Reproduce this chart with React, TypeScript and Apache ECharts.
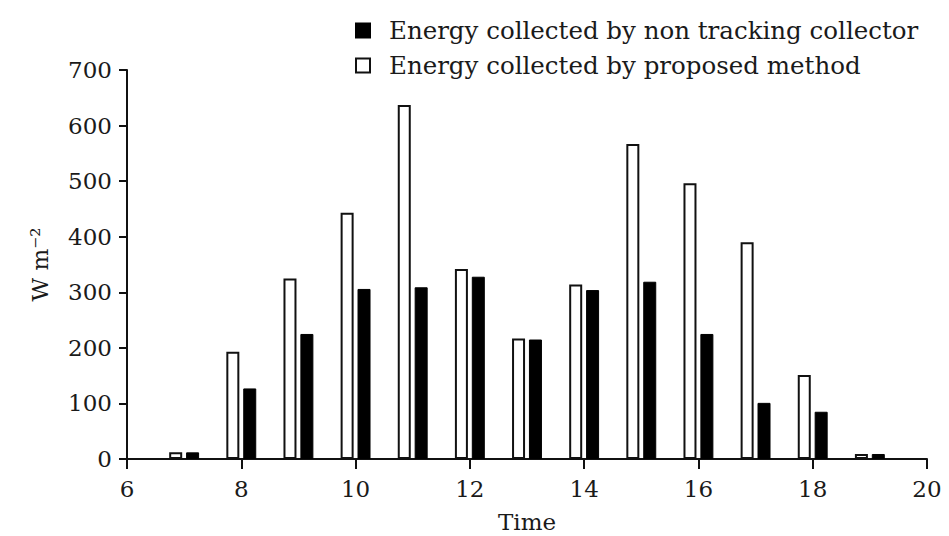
import React, { useEffect, useRef } from "react";
import * as echarts from "echarts";

const hours = [7, 8, 9, 10, 11, 12, 13, 14, 15, 16, 17, 18, 19];
const proposed = [12, 193, 325, 443, 637, 342, 217, 314, 567, 496, 390, 151, 9];
const nonTracking = [12, 127, 225, 306, 309, 328, 215, 304, 319, 225, 101, 85, 9];
const nameNonTracking = "Energy collected by non tracking collector";
const nameProposed = "Energy collected by proposed method";

const FONT = "'DejaVu Serif', 'Liberation Serif', serif";
const TXT = "#1a1a1a";

export default function App() {
  const ref = useRef<HTMLDivElement>(null);
  useEffect(() => {
    if (!ref.current) return;
    const chart = echarts.init(ref.current, undefined, { renderer: "svg" });
    chart.setOption({
      animation: false,
      backgroundColor: "#ffffff",
      textStyle: { fontFamily: FONT, color: TXT },
      legend: {
        orient: "vertical",
        left: 355,
        top: 18,
        icon: "rect",
        itemWidth: 14,
        itemHeight: 14,
        itemGap: 10,
        padding: 0,
        data: [nameNonTracking, nameProposed],
        textStyle: { fontFamily: FONT, fontSize: 24.5, color: TXT, padding: [0, 0, 0, 14] },
      },
      grid: {
        left: 127,
        right: 22,
        top: 70,
        bottom: 77,
        containLabel: false,
        outerBoundsMode: "none",
      },
      xAxis: {
        type: "value",
        min: 6,
        max: 20,
        interval: 2,
        name: "Time",
        nameLocation: "middle",
        nameGap: 51,
        nameTextStyle: { fontFamily: FONT, fontSize: 23, color: TXT },
        axisLine: { show: true, lineStyle: { color: "#111", width: 2 } },
        axisTick: { show: true, length: 10, lineStyle: { color: "#111", width: 2 } },
        axisLabel: { fontFamily: FONT, fontSize: 23, color: TXT, margin: 18 },
        splitLine: { show: false },
      },
      yAxis: {
        type: "value",
        min: 0,
        max: 700,
        interval: 100,
        name: "W m\u207B\u00B2",
        nameLocation: "middle",
        nameGap: 76,
        nameRotate: 90,
        nameTextStyle: { fontFamily: FONT, fontSize: 23, color: TXT },
        axisLine: { show: true, lineStyle: { color: "#111", width: 2 } },
        axisTick: { show: true, length: 8, lineStyle: { color: "#111", width: 2 } },
        axisLabel: { fontFamily: FONT, fontSize: 23, color: TXT, margin: 15 },
        splitLine: { show: false },
      },
      series: [
        {
          name: nameProposed,
          type: "bar",
          barWidth: 13,
          barGap: "30%",
          data: hours.map((h, i) => [h, proposed[i]]),
          itemStyle: { color: "#ffffff", borderColor: "#111", borderWidth: 2 },
        },
        {
          name: nameNonTracking,
          type: "bar",
          barWidth: 13,
          barGap: "30%",
          data: hours.map((h, i) => [h, nonTracking[i]]),
          itemStyle: { color: "#000000", borderColor: "#000", borderWidth: 1 },
        },
      ],
    });
    return () => chart.dispose();
  }, []);
  return (
    <div
      ref={ref}
      style={{ position: "fixed", left: 0, top: 0, width: 949, height: 536 }}
    />
  );
}
